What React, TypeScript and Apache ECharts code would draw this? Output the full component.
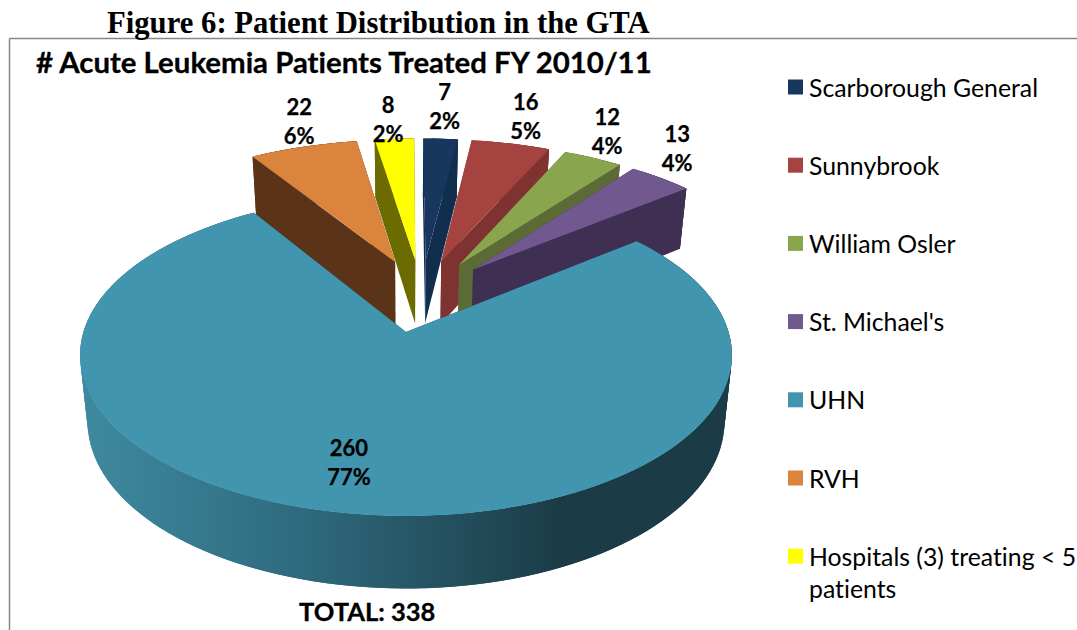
import React, { useEffect, useRef } from "react";
import * as echarts from "echarts";

const figureTitle = "Figure 6: Patient Distribution in the GTA";
const chartTitle = "# Acute Leukemia Patients Treated FY 2010/11";
const totalLabel = "TOTAL: 338";
const hospitals = ["Scarborough General", "Sunnybrook", "William Osler", "St. Michael's", "UHN", "RVH", "Hospitals (3) treating < 5 patients"];
const patients = [7, 16, 12, 13, 260, 22, 8];
const percents = ["2%", "5%", "4%", "4%", "77%", "6%", "2%"];
const topColors = ["#17375E", "#A54340", "#89A54E", "#71588F", "#4195AE", "#DB843D", "#FFFF00"];
const wallColors = ["#122E4E", "#7F3331", "#5C6B36", "#3F2F52", "#1B3C47", "#5A3319", "#6B6B00"];
const drawOrder = [2, 3, 4, 5, 6, 0, 1];

const FONT = "Lato";
// perspective model of the pie's plane
const CX = 406, CY = 332, A = 322.6, B = 157.7, K = 1 / 7, DEPTH = 66, K2 = 0.09, EXPLODE = 0.246, WALL_SHRINK = 0.023;
const SMALL_SLICE_SHIFT = 0.008;
const LABEL_R = [1.31, 1.265, 1.24, 1.26, 0.75, 1.23, 1.185];
const LABEL_NUDGE = [[0, -1], [-1, -1], [-14, -4], [-27, -9], [-12, 0], [14, -3], [-3, 0]];

const total = patients.reduce((s, v) => s + v, 0);
const rad = (d: number) => (d * Math.PI) / 180;
const uhnMid = (() => {
  let c = 0;
  for (let i = 0; i < 4; i++) c += patients[i];
  return ((c + patients[4] / 2) / total) * 360;
})();
const centerU = -EXPLODE * Math.sin(rad(uhnMid));
const centerV = -EXPLODE * Math.cos(rad(uhnMid));

function project(u: number, v: number, wall = 0): number[] {
  const d = 1 + K * v;
  return [CX + ((A * u) / d) * (1 - WALL_SHRINK * wall), CY - (B * v) / d + (wall * DEPTH) / (1 + K2 * v)];
}

function renderSlice(params: any, api: any) {
  const i = params.dataIndex;
  const value = api.value(0);
  let before = 0;
  for (let j = 0; j < i; j++) before += patients[j];
  const a0 = (before / total) * 360;
  const a1 = ((before + value) / total) * 360;
  const mid = (a0 + a1) / 2;
  const au = centerU + EXPLODE * Math.sin(rad(mid)) + (i === 4 ? 0 : SMALL_SLICE_SHIFT);
  const av = centerV + EXPLODE * Math.cos(rad(mid));
  const steps = Math.max(2, Math.ceil((a1 - a0) / 2));
  const rim: number[][] = [];
  for (let s = 0; s <= steps; s++) {
    const a = rad(a0 + ((a1 - a0) * s) / steps);
    rim.push([au + Math.sin(a), av + Math.cos(a)]);
  }
  const z = drawOrder[i] * 10;
  const wallFill: any =
    i === 4
      ? new echarts.graphic.LinearGradient(80, 0, 560, 0, [
          { offset: 0, color: "#3F8A9F" },
          { offset: 0.45, color: "#2F6B7F" },
          { offset: 1, color: "#1B3C47" },
        ], true)
      : wallColors[i];
  const poly = (pts: number[][], fill: any, zz: number) => ({
    type: "polygon",
    z2: zz,
    shape: { points: pts },
    style: { fill, stroke: null },
  });
  const first = rim[0], last = rim[rim.length - 1];
  const radialWall = (p: number[]) => [project(au, av), project(p[0], p[1]), project(p[0], p[1], 1), project(au, av, 1)];
  // Consecutive quads overlap by one step so no seams show between them.
  const rimQuads = rim.slice(0, -1).map((p, s) => {
    const q = rim[Math.min(s + 2, rim.length - 1)];
    return poly([project(p[0], p[1]), project(q[0], q[1]), project(q[0], q[1], 1), project(p[0], p[1], 1)], wallFill, z + 2);
  });
  const top = [project(au, av), ...rim.map((p) => project(p[0], p[1]))];
  const lr = LABEL_R[i];
  const lp = project(au + lr * Math.sin(rad(mid)), av + lr * Math.cos(rad(mid)));
  return {
    type: "group",
    children: [
      poly(radialWall(first), wallColors[i], z),
      poly(radialWall(last), wallColors[i], z + 1),
      ...rimQuads,
      poly(top, topColors[i], z + 3),
      {
        type: "text",
        z2: 200,
        x: lp[0] + LABEL_NUDGE[i][0],
        y: lp[1] + LABEL_NUDGE[i][1],
        style: {
          text: `${value}\n${percents[i]}`,
          fontFamily: FONT,
          fontWeight: "bold",
          fontSize: 22,
          lineHeight: 29,
          fill: "#000",
          stroke: "#000",
          lineWidth: 0.25,
          align: "center",
          verticalAlign: "middle",
        },
      },
    ],
  };
}

const boldText = (fontSize: number) => ({
  fontFamily: FONT,
  fontWeight: "bold",
  fontSize,
  color: "#000",
  textBorderColor: "#000",
  textBorderWidth: 0.3,
});

export default function App() {
  const ref = useRef<HTMLDivElement>(null);
  useEffect(() => {
    const chart = echarts.init(ref.current!, undefined, { renderer: "svg" });
    chart.setOption({
      animation: false,
      backgroundColor: "#fff",
      title: [
        { text: figureTitle, left: 107, top: 7, padding: 0, textStyle: { fontFamily: "Liberation Serif", fontWeight: "bold", fontSize: 30.7, color: "#000" } },
        { text: chartTitle, left: 36, top: 47, padding: 0, textStyle: boldText(29.4) },
        { text: totalLabel, left: 299, top: 598, padding: 0, textStyle: boldText(25.5) },
      ],
      legend: {
        orient: "vertical",
        left: 788,
        top: 72,
        padding: 0,
        itemWidth: 15,
        itemHeight: 15,
        itemGap: 48.2,
        icon: "rect",
        selectedMode: false,
        data: hospitals,
        formatter: (n: string) => n.replace(" patients", ""),
        textStyle: { fontFamily: FONT, fontSize: 24.8, color: "#000", lineHeight: 30, padding: [0, 0, 0, 1] },
      },
      graphic: [
        { type: "line", silent: true, shape: { x1: 9.5, y1: 38.5, x2: 1077, y2: 38.5 }, style: { stroke: "#868686", lineWidth: 1.5 } },
        { type: "line", silent: true, shape: { x1: 9.5, y1: 38.5, x2: 9.5, y2: 630 }, style: { stroke: "#868686", lineWidth: 1.5 } },
        { type: "text", left: 809, top: 576, style: { text: "patients", fontFamily: FONT, fontSize: 24.8, fill: "#000" } },
      ],
      series: [
        {
          type: "pie",
          radius: [0, 0],
          silent: true,
          label: { show: false },
          labelLine: { show: false },
          data: hospitals.map((name, i) => ({ name, value: patients[i], itemStyle: { color: topColors[i] } })),
        },
        {
          type: "custom",
          coordinateSystem: "none",
          silent: true,
          data: patients.map((v) => [v]),
          renderItem: renderSlice,
        },
      ],
    });
    return () => chart.dispose();
  }, []);
  return <div ref={ref} style={{ position: "absolute", left: 0, top: 0, width: 1077, height: 630, fontVariantLigatures: "none" }} />;
}
